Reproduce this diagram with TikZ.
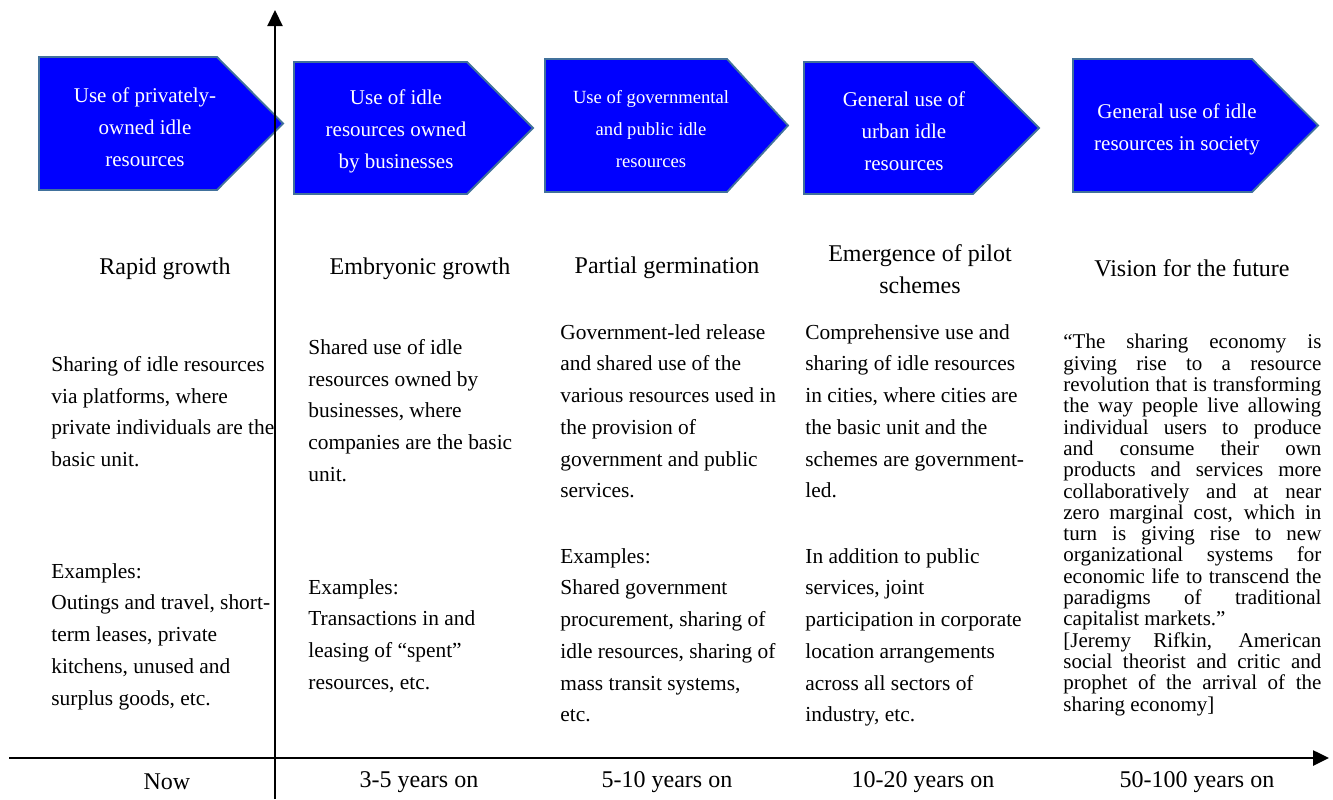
\documentclass[tikz,border=0pt]{standalone}
\usepackage{fontspec}
\setmainfont{Liberation Serif}
\usepackage{tikz}
\usetikzlibrary{arrows.meta}
\definecolor{phaseedge}{RGB}{65,113,156}

\begin{document}
\begin{tikzpicture}[x=0.5pt,y=-0.5pt,
    phase/.style={fill=blue,draw=phaseedge,line width=0.9pt},
    phasetext/.style={text=white,align=center,inner sep=0pt,font=\fontsize{10.5}{16}\selectfont},
    stage/.style={align=center,inner sep=0pt,font=\fontsize{12}{15.85}\selectfont},
    desc/.style={align=left,anchor=north west,inner sep=0pt,font=\fontsize{10.7}{15.85}\selectfont},
    axis/.style={line width=1.1pt,-{Triangle[length=8pt,width=7.5pt]}}]
    \useasboundingbox (0,0) rectangle (1333,799);

    % Phases
    \foreach \l/\t/\b/\s/\p in {39/57/190/217/283, 294/62/194/467/533,
        545/59/192/727/788, 804/62/194/973/1039, 1073/59/192/1252/1318} {
        \filldraw[phase] (\l,\t) -- (\s,\t) -- (\p,{(\t+\b)/2}) -- (\s,\b) -- (\l,\b) -- cycle;
    }
    \node[phasetext] (use1) at (145,127) {Use of privately-\\owned idle\\resources};
    \node[phasetext] (use2) at (396,131) {Use of idle\\resources owned\\by businesses};
    \node[phasetext,font=\fontsize{9.3}{16}\selectfont] (use3) at (651,129) {Use of governmental\\and public idle\\resources};
    \node[phasetext] (use4) at (904,131) {General use of\\urban idle\\resources};
    \node[phasetext] (use5) at (1177,129) {General use of idle\\resources in society};

    % Axes
    \coordinate (ybot) at (275,799);
    \coordinate (ytop) at (275,10);
    \coordinate (xleft) at (9,758);
    \coordinate (xright) at (1329,758);
    \draw[axis] (ybot) -- (ytop);
    \draw[axis,line width=1.3pt] (xleft) -- (xright);

    % Stages
    \node[stage] (stage1) at (165,269) {Rapid growth};
    \node[stage] (stage2) at (420,269) {Embryonic growth};
    \node[stage] (stage3) at (667,268) {Partial germination};
    \node[stage] (stage4) at (920,269) {Emergence of pilot\\schemes};
    \node[stage] (stage5) at (1192,268) {Vision for the future};

    % Descriptions
    \node[desc] (desc1) at (51,356) {Sharing of idle resources\\via platforms, where\\private individuals are the\\basic unit.};
    \node[desc] (ex1) at (51,563) {Examples:\\Outings and travel, short-\\term leases, private\\kitchens, unused and\\surplus goods, etc.};
    \node[desc] (desc2) at (308,339) {Shared use of idle\\resources owned by\\businesses, where\\companies are the basic\\unit.};
    \node[desc] (ex2) at (308,579) {Examples:\\Transactions in and\\leasing of “spent”\\resources, etc.};
    \node[desc] (desc3) at (560,324) {Government-led release\\and shared use of the\\various resources used in\\the provision of\\government and public\\services.};
    \node[desc] (ex3) at (560,548) {Examples:\\Shared government\\procurement, sharing of\\idle resources, sharing of\\mass transit systems,\\etc.};
    \node[desc] (desc4) at (805,324) {Comprehensive use and\\sharing of idle resources\\in cities, where cities are\\the basic unit and the\\schemes are government-\\led.};
    \node[desc] (ex4) at (805,548) {In addition to public\\services, joint\\participation in corporate\\location arrangements\\across all sectors of\\industry, etc.};
    \node[desc,align=justify,text width=129pt,font=\fontsize{10.5}{10.65}\selectfont] (quote5) at (1063,334)
        {\hyphenpenalty=10000\relax\tolerance=10000\relax
        “The sharing economy is\linebreak giving rise to a resource\linebreak revolution that is transforming\linebreak the way people live allowing\linebreak individual users to produce\linebreak and consume their own\linebreak products and services more\linebreak collaboratively and at near\linebreak zero marginal cost, which in\linebreak turn is giving rise to new\linebreak organizational systems for\linebreak economic life to transcend the\linebreak paradigms of traditional\linebreak capitalist markets.”\\
        {[}Jeremy Rifkin, American\linebreak social theorist and critic and\linebreak prophet of the arrival of the\linebreak sharing economy]};

    % Time scale
    \node[stage] (now) at (167,782) {Now};
    \node[stage] (yr1) at (419,782) {3-5 years on};
    \node[stage] (yr2) at (667,782) {5-10 years on};
    \node[stage] (yr3) at (923,782) {10-20 years on};
    \node[stage] (yr4) at (1197,782) {50-100 years on};
\end{tikzpicture}
\end{document}
